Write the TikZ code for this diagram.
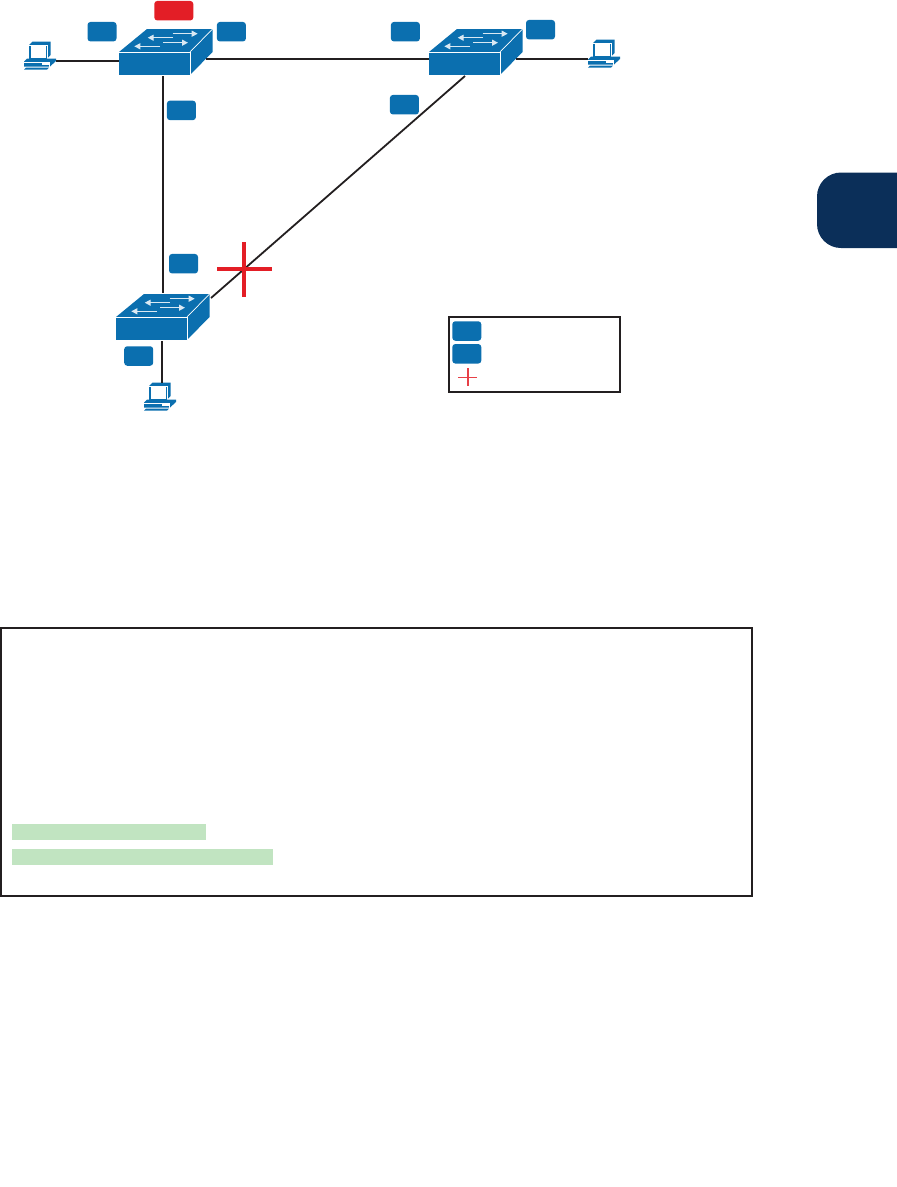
\documentclass[tikz,border=0pt]{standalone}
\usetikzlibrary{arrows.meta}
\definecolor{netblue}{HTML}{0B6FAF}
\definecolor{alertred}{HTML}{E31E26}
\definecolor{inkline}{HTML}{231F20}
\definecolor{tabnavy}{HTML}{0B2F59}
\definecolor{hlgreen}{HTML}{C1E4C1}
\tikzset{
  x=1pt,y=-1pt,
  tagbox/.style={fill=netblue,rounded corners=3pt,inner sep=0pt,minimum width=29pt,minimum height=19.5pt},
  redtag/.style={tagbox,fill=alertred,minimum width=39pt},
  link/.style={draw=inkline,line width=1.8pt},
  front/.style={fill=netblue,inner sep=0pt,minimum width=71pt,minimum height=23pt},
  flow/.style={white!85!netblue,line width=1.3pt,-{Triangle[length=6pt,width=6pt]}},
  crossline/.style={fill=alertred},
  smallcross/.style={fill=alertred!85!white},
}
% front-top-left corner x,y ; node name
\newcommand{\netswitch}[3]{%
  \node[front,anchor=north west] (#3) at (#1,#2) {};
  \begin{scope}[shift={(#1,#2)}]
    \fill[netblue] (0,0) -- (28,-23) -- (93.5,-23) -- (71,0) -- cycle;
    \fill[netblue] (71,0) -- (93.5,-23) -- (93.5,0) -- (71,23) -- cycle;
    \draw[white,line width=.7pt] (0,0) -- (71,0) -- (71,23);
    \draw[white,line width=.7pt] (71,0) -- (93.5,-23);
    \draw[flow] (54,-14.3) -- (28.7,-14.3);
    \draw[flow] (53.7,-18.3) -- (78.7,-18.3);
    \draw[flow] (44,-9.3) -- (69,-9.3);
    \draw[flow] (41,-5.7) -- (15.3,-5.7);
  \end{scope}}
% top-left of icon x,y ; node name
\newcommand{\netpc}[3]{%
  \node[inner sep=0pt,minimum width=32pt,minimum height=27pt,anchor=north west] (#3) at (#1,#2) {};
  \begin{scope}[shift={(#1,#2)}]
    \fill[netblue] (5,3) -- (8.5,-.5) -- (26.5,-.5) -- (26.5,13) -- (22.5,17) -- (5,17) -- cycle;
    \fill[white] (6.5,4) rectangle (21.5,16);
    \draw[white,line width=.5pt] (5,3.2) -- (22.8,3.2) -- (22.8,17);
    \fill[netblue] (0,19.5) -- (3,16.5) -- (32,16.5) -- (32,19) -- (26,24.5) -- (0,24.5) -- cycle;
    \draw[white,line width=.4pt] (0,19.8) -- (25.5,19.8) -- (25.5,24.5);
    \fill[white] (18,21.3) rectangle (24.5,23);
    \fill[netblue] (2,25.5) -- (25,25.5) -- (23,27.5) -- (0,27.5) -- cycle;
  \end{scope}}
\begin{document}
\begin{tikzpicture}
\useasboundingbox (0,0) rectangle (897,1187);
% side tab
\begin{scope}
\clip (0,0) rectangle (897,1187);
\fill[tabnavy,rounded corners=24pt] (817,172.5) rectangle (940,248);
\end{scope}
\netswitch{119}{52}{swA}
\netswitch{429}{52}{swB}
\netswitch{116}{317}{swC}
\netpc{24}{42}{pcA}
\netpc{588}{40}{pcB}
\netpc{144}{383}{pcC}

\coordinate (swAright) at (206,59);
\coordinate (swBright) at (516,59);
\coordinate (swCtop) at (163,293);
\coordinate (swCcorner) at (211,298);
\coordinate (swBfoot) at (465,76);
\coordinate (swAfoot) at (163,76);
\coordinate (swCfoot) at (162,341);

\draw[link] (56,61) -- (swA.west |- 0,61);
\draw[link] (swAright) -- (swB.west |- swAright);
\draw[link] (swBright) -- (pcB.west |- swBright);
\draw[link] (swAfoot) -- (swCtop);
\draw[link] (swBfoot) -- (swCcorner);
\draw[link] (swCfoot) -- (swCfoot |- pcC.north);

\node[tagbox] (t1) at (102,31.7) {};
\node[redtag] (t2) at (173.8,10.7) {};
\node[tagbox] (t3) at (231.4,31.7) {};
\node[tagbox] (t4) at (181.4,110.4) {};
\node[tagbox] (t5) at (405.4,31.7) {};
\node[tagbox] (t6) at (540.5,29.7) {};
\node[tagbox] (t7) at (404.4,104.7) {};
\node[tagbox] (t8) at (183.5,263.7) {};
\node[tagbox] (t9) at (138.7,356) {};

\fill[crossline] (216.7,266.8) rectangle (271.7,271.2);
\fill[crossline] (241.8,241.7) rectangle (246.2,296.7);

% legend
\node[draw=inkline,line width=1.8pt,inner sep=0pt,minimum width=170.6pt,minimum height=74.8pt,anchor=north west] (legend) at (448.3,316) {};
\node[tagbox] (l1) at (466.8,331) {};
\node[tagbox] (l2) at (466.8,353.8) {};
\fill[smallcross] (458.3,376.6) rectangle (477.3,378);
\fill[smallcross] (467.1,368.3) rectangle (468.5,386.3);

% text box
\node[draw=inkline,line width=2pt,inner sep=0pt,minimum width=751pt,minimum height=268.5pt,anchor=north west] (textbox) at (0,626.8) {};
\fill[hlgreen] (12,824) rectangle (206,840);
\fill[hlgreen] (12,849) rectangle (273,865);
\end{tikzpicture}
\end{document}
